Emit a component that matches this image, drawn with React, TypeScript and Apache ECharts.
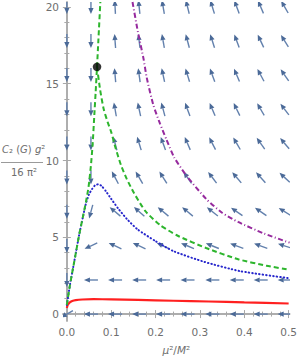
import React, { useEffect, useRef } from "react";
import * as echarts from "echarts";

// ---- axis ticks ----
const X_TICKS = [0, 0.1, 0.2, 0.3, 0.4, 0.5];
const X_MINOR = [0.02, 0.04, 0.06, 0.08, 0.12, 0.14, 0.16, 0.18, 0.22, 0.24, 0.26, 0.28, 0.32, 0.34, 0.36, 0.38, 0.42, 0.44, 0.46, 0.48];
const Y_TICKS = [0, 5, 10, 15, 20];
const Y_MINOR = [1, 2, 3, 4, 6, 7, 8, 9, 11, 12, 13, 14, 16, 17, 18, 19];

// ---- vector field grid ----
const FIELD_X = [0, 0.0543, 0.1087, 0.163, 0.217, 0.272, 0.328, 0.383, 0.437, 0.491];
const FIELD_Y = [0, 2.22, 4.44, 6.67, 8.89, 11.11, 13.33, 15.56, 17.78, 20];
// arrow direction in degrees (0 = right, 90 = up), one row per FIELD_Y
const ANGLES = [
  [210, 180, 180, 180, 180, 180, 180, 180, 180, 180],
  [270, 180, 180, 180, 180, 180, 180, 180, 180, 180],
  [270, 205, 155, 155, 155, 157, 158, 160, 160, 162],
  [270, 255, 140, 138, 140, 140, 142, 145, 145, 148],
  [270, 270, 118, 120, 122, 125, 127, 130, 132, 137],
  [270, 270, 105, 107, 110, 113, 117, 120, 125, 130],
  [270, 270, 100, 102, 105, 110, 113, 116, 120, 127],
  [270, 270, 95, 98, 102, 107, 110, 113, 118, 125],
  [270, 270, 94, 97, 100, 105, 108, 110, 115, 122],
  [270, 270, 93, 96, 100, 104, 107, 110, 113, 120],
];

// ---- curves ----
const RED_X = [0, 0.002, 0.006, 0.012, 0.02, 0.035, 0.06, 0.1, 0.16, 0.24, 0.32, 0.4, 0.5];
const RED_Y = [0.4, 0.6, 0.75, 0.85, 0.91, 0.95, 0.97, 0.96, 0.92, 0.87, 0.82, 0.76, 0.69];

const GREEN_UP_X = [0, 0.007, 0.014, 0.021, 0.028, 0.036, 0.043, 0.049, 0.054, 0.058, 0.062, 0.065, 0.068, 0.071, 0.0755];
const GREEN_UP_Y = [0.6, 1.9, 3.0, 4.1, 5.2, 6.3, 7.3, 8.3, 9.6, 11.0, 13.0, 14.5, 16.1, 17.8, 20.32];

const GREEN_DOWN_X = [0.068, 0.075, 0.083, 0.092, 0.1, 0.11, 0.122, 0.135, 0.151, 0.177, 0.21, 0.25, 0.314, 0.386, 0.45, 0.502];
const GREEN_DOWN_Y = [16.1, 14.6, 13.35, 12.5, 11.85, 10.8, 9.7, 8.8, 7.9, 6.7, 5.8, 5.1, 4.3, 3.57, 3.15, 2.88];

const BLUE_X = [0, 0.007, 0.014, 0.021, 0.028, 0.036, 0.043, 0.05, 0.057, 0.064, 0.071, 0.078, 0.088, 0.1, 0.115, 0.135, 0.16, 0.2, 0.24, 0.31, 0.39, 0.502];
const BLUE_Y = [0.6, 1.9, 3.0, 4.1, 5.2, 6.3, 7.2, 7.8, 8.15, 8.4, 8.45, 8.35, 8.0, 7.5, 6.9, 6.2, 5.5, 4.75, 4.1, 3.4, 2.8, 2.33];

const PURPLE_X = [0.148, 0.16, 0.173, 0.18, 0.195, 0.21, 0.224, 0.242, 0.27, 0.314, 0.35, 0.386, 0.444, 0.502];
const PURPLE_Y = [20.32, 18.4, 16.6, 15.4, 13.6, 12.4, 11.4, 10.2, 9.0, 7.5, 6.6, 6.0, 5.25, 4.65];

const FIXED_POINT = [0.068, 16.1];

const AXIS_GRAY = "#a8a8a8";
const LABEL_GRAY = "#6e6e6e";
const ARROW = "#4b6a98";

const zip = (xs: number[], ys: number[]) => xs.map((x, i) => [x, ys[i]]);

function buildOption() {
  const fieldData: number[][] = [];
  FIELD_Y.forEach((y, r) => {
    FIELD_X.forEach((x, c) => fieldData.push([x, y, ANGLES[r][c]]));
  });

  const xCommon = { type: "value", min: -0.0087, max: 0.5022, splitLine: { show: false } };
  const yCommon = { type: "value", min: -0.45, max: 20.32, splitLine: { show: false } };
  const majorTick = (vals: number[]) => ({ show: true, inside: true, length: 4, customValues: vals, lineStyle: { color: AXIS_GRAY, width: 1 } });
  const minorTick = (vals: number[]) => ({ show: true, inside: true, length: 2.5, customValues: vals, lineStyle: { color: AXIS_GRAY, width: 1 } });
  const line = { show: true, lineStyle: { color: AXIS_GRAY, width: 1.5 } };

  return {
    animation: false,
    backgroundColor: "#fff",
    grid: { left: 63, right: 2, top: 2, bottom: 36, containLabel: false },
    xAxis: [
      {
        ...xCommon, position: "bottom", axisLine: line, axisTick: majorTick(X_TICKS),
        axisLabel: { show: true, customValues: X_TICKS, formatter: (v: number) => v.toFixed(1), color: LABEL_GRAY, fontSize: 10.5, margin: 5, fontFamily: "DejaVu Sans" },
        name: "{i|μ}²/{i|M}²", nameLocation: "middle", nameGap: 23,
        nameTextStyle: { color: LABEL_GRAY, fontSize: 10.5, fontFamily: "DejaVu Sans", rich: { i: { fontStyle: "italic", fontSize: 10.5, color: LABEL_GRAY, fontFamily: "DejaVu Sans" } } },
      },
      { ...xCommon, position: "bottom", axisLine: { show: false }, axisTick: minorTick(X_MINOR), axisLabel: { show: false } },
      { ...xCommon, position: "top", axisLine: line, axisTick: majorTick(X_TICKS), axisLabel: { show: false } },
      { ...xCommon, position: "top", axisLine: { show: false }, axisTick: minorTick(X_MINOR), axisLabel: { show: false } },
    ],
    yAxis: [
      {
        ...yCommon, position: "left", axisLine: line, axisTick: majorTick(Y_TICKS),
        axisLabel: { show: true, customValues: Y_TICKS, color: LABEL_GRAY, fontSize: 10.5, margin: 4, fontFamily: "DejaVu Sans" },
      },
      { ...yCommon, position: "left", axisLine: { show: false }, axisTick: minorTick(Y_MINOR), axisLabel: { show: false } },
      { ...yCommon, position: "right", axisLine: line, axisTick: majorTick(Y_TICKS), axisLabel: { show: false } },
      { ...yCommon, position: "right", axisLine: { show: false }, axisTick: minorTick(Y_MINOR), axisLabel: { show: false } },
    ],
    graphic: [
      {
        type: "text", left: 2, top: 144,
        style: {
          text: "{i|C}₂ ({i|G}) {i|g}²",
          fill: LABEL_GRAY, fontSize: 10, fontFamily: "DejaVu Sans",
          rich: { i: { fontStyle: "italic", fontSize: 10, fill: LABEL_GRAY, fontFamily: "DejaVu Sans" } },
        },
      },
      { type: "line", shape: { x1: 1, y1: 162.5, x2: 43, y2: 162.5 }, style: { stroke: "#9a9a9a", lineWidth: 1 } },
      {
        type: "text", left: 11, top: 167,
        style: { text: "16 π²", fill: LABEL_GRAY, fontSize: 10, fontFamily: "DejaVu Sans" },
      },
    ],
    series: [
      {
        type: "custom",
        xAxisIndex: 0, yAxisIndex: 0,
        clip: true,
        data: fieldData,
        renderItem: (params: any, api: any) => {
          const c = api.coord([api.value(0), api.value(1)]);
          const a = (api.value(2) * Math.PI) / 180;
          const dx = Math.cos(a), dy = -Math.sin(a);
          const L = 14, headLen = 6, headW = 2.6;
          const tail = [c[0] - (dx * L) / 2, c[1] - (dy * L) / 2];
          const tip = [c[0] + (dx * L) / 2, c[1] + (dy * L) / 2];
          const base = [tip[0] - dx * headLen, tip[1] - dy * headLen];
          const px = -dy, py = dx;
          return {
            type: "group",
            children: [
              { type: "line", shape: { x1: tail[0], y1: tail[1], x2: base[0], y2: base[1] }, style: { stroke: "#6381ad", lineWidth: 1.4 } },
              {
                type: "polygon",
                shape: { points: [tip, [base[0] + px * headW, base[1] + py * headW], [base[0] - px * headW, base[1] - py * headW]] },
                style: { fill: ARROW },
              },
            ],
          };
        },
        z: 1,
      },
      {
        type: "line", data: zip(RED_X, RED_Y), showSymbol: false, smooth: 0.2,
        lineStyle: { color: "#ff2020", width: 2.2 }, z: 3,
      },
      {
        type: "line", data: zip(BLUE_X, BLUE_Y), showSymbol: false, smooth: 0.2,
        lineStyle: { color: "#2626cc", width: 2, type: [0.5, 3], cap: "round" }, z: 3,
      },
      {
        type: "line", data: zip(GREEN_UP_X, GREEN_UP_Y), showSymbol: false, smooth: 0.2,
        lineStyle: { color: "#2db52d", width: 2, type: [5, 3] }, z: 4,
      },
      {
        type: "line", data: zip(GREEN_DOWN_X, GREEN_DOWN_Y), showSymbol: false, smooth: 0.2,
        lineStyle: { color: "#2db52d", width: 2, type: [5, 3] }, z: 4,
      },
      {
        type: "line", data: zip(PURPLE_X, PURPLE_Y), showSymbol: false, smooth: 0.2,
        lineStyle: { color: "#962a9e", width: 2, type: [5, 2.5, 1, 2.5] }, z: 3,
      },
      {
        type: "scatter", data: [FIXED_POINT], symbolSize: 8.5,
        itemStyle: { color: "#000" }, z: 5,
      },
    ],
  };
}

export default function App() {
  const ref = useRef<HTMLDivElement>(null);
  useEffect(() => {
    if (!ref.current) return;
    const chart = echarts.init(ref.current, null, { renderer: "svg" });
    chart.setOption(buildOption() as any);
    return () => chart.dispose();
  }, []);
  return (
    <div
      ref={ref}
      style={{ position: "fixed", left: 0, top: 0, width: 300, height: 360, background: "#fff" }}
    />
  );
}
